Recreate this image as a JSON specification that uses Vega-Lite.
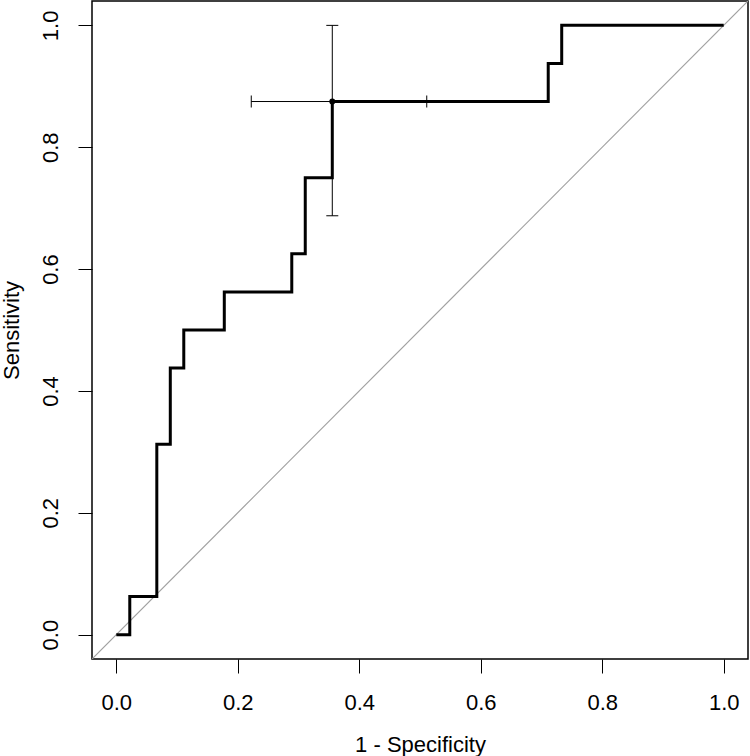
{
  "$schema": "https://vega.github.io/schema/vega-lite/v6.json",
  "width": 656,
  "height": 658,
  "autosize": {"type": "none"},
  "padding": {"left": 92, "top": 1, "right": 2, "bottom": 97},
  "background": "white",
  "config": {
    "font": "Liberation Sans",
    "view": {"stroke": "black", "strokeWidth": 1.5},
    "axis": {
      "grid": false,
      "domain": false,
      "tickColor": "black",
      "tickSize": 14,
      "tickWidth": 1,
      "labelFont": "Liberation Sans",
      "labelFontSize": 22,
      "labelColor": "black",
      "titleFont": "Liberation Sans",
      "titleFontSize": 22,
      "titleFontWeight": "normal",
      "titleColor": "black"
    }
  },
  "datasets": {
    "roc": [
      {"i": 0, "fpr": 0, "sens": 0},
      {"i": 1, "fpr": 0.0222, "sens": 0},
      {"i": 2, "fpr": 0.0222, "sens": 0.0625},
      {"i": 3, "fpr": 0.0667, "sens": 0.0625},
      {"i": 4, "fpr": 0.0667, "sens": 0.3125},
      {"i": 5, "fpr": 0.0889, "sens": 0.3125},
      {"i": 6, "fpr": 0.0889, "sens": 0.4375},
      {"i": 7, "fpr": 0.1111, "sens": 0.4375},
      {"i": 8, "fpr": 0.1111, "sens": 0.5},
      {"i": 9, "fpr": 0.1778, "sens": 0.5},
      {"i": 10, "fpr": 0.1778, "sens": 0.5625},
      {"i": 11, "fpr": 0.2889, "sens": 0.5625},
      {"i": 12, "fpr": 0.2889, "sens": 0.625},
      {"i": 13, "fpr": 0.3111, "sens": 0.625},
      {"i": 14, "fpr": 0.3111, "sens": 0.75},
      {"i": 15, "fpr": 0.3556, "sens": 0.75},
      {"i": 16, "fpr": 0.3556, "sens": 0.875},
      {"i": 17, "fpr": 0.7111, "sens": 0.875},
      {"i": 18, "fpr": 0.7111, "sens": 0.9375},
      {"i": 19, "fpr": 0.7333, "sens": 0.9375},
      {"i": 20, "fpr": 0.7333, "sens": 1},
      {"i": 21, "fpr": 1, "sens": 1}
    ],
    "ci": [
      {"fpr": 0.3556, "sens": 0.875, "fprLo": 0.2222, "fprHi": 0.5111, "sensLo": 0.6875, "sensHi": 1.0}
    ],
    "diag": [
      {"a": -0.04, "b": 1.04}
    ]
  },
  "layer": [
    {
      "data": {"name": "diag"},
      "mark": {"type": "rule", "color": "#a0a0a0", "strokeWidth": 1.2, "clip": true},
      "encoding": {
        "x": {"field": "a", "type": "quantitative", "scale": {"domain": [-0.04, 1.04], "nice": false, "zero": false},
              "axis": {"values": [0, 0.2, 0.4, 0.6, 0.8, 1.0], "format": ".1f", "title": "1 - Specificity", "labelPadding": 19, "titlePadding": 21}},
        "y": {"field": "a", "type": "quantitative", "scale": {"domain": [-0.04, 1.04], "nice": false, "zero": false},
              "axis": {"values": [0, 0.2, 0.4, 0.6, 0.8, 1.0], "format": ".1f", "title": "Sensitivity", "labelAngle": -90, "labelAlign": "center", "labelBaseline": "bottom", "labelPadding": 16, "titlePadding": 16}},
        "x2": {"field": "b"},
        "y2": {"field": "b"}
      }
    },
    {
      "data": {"name": "roc"},
      "mark": {"type": "line", "color": "black", "strokeWidth": 3, "strokeJoin": "miter", "strokeCap": "butt"},
      "encoding": {
        "x": {"field": "fpr", "type": "quantitative"},
        "y": {"field": "sens", "type": "quantitative"},
        "order": {"field": "i", "type": "quantitative"}
      }
    },
    {
      "data": {"name": "ci"},
      "mark": {"type": "rule", "color": "black", "strokeWidth": 1},
      "encoding": {
        "x": {"field": "fprLo", "type": "quantitative"},
        "x2": {"field": "fprHi"},
        "y": {"field": "sens", "type": "quantitative"}
      }
    },
    {
      "data": {"name": "ci"},
      "mark": {"type": "rule", "color": "black", "strokeWidth": 1},
      "encoding": {
        "x": {"field": "fpr", "type": "quantitative"},
        "y": {"field": "sensLo", "type": "quantitative"},
        "y2": {"field": "sensHi"}
      }
    },
    {
      "data": {"name": "ci"},
      "mark": {"type": "tick", "color": "black", "orient": "vertical", "size": 12, "thickness": 1, "opacity": 1},
      "encoding": {
        "x": {"field": "fprLo", "type": "quantitative"},
        "y": {"field": "sens", "type": "quantitative"}
      }
    },
    {
      "data": {"name": "ci"},
      "mark": {"type": "tick", "color": "black", "orient": "vertical", "size": 12, "thickness": 1, "opacity": 1},
      "encoding": {
        "x": {"field": "fprHi", "type": "quantitative"},
        "y": {"field": "sens", "type": "quantitative"}
      }
    },
    {
      "data": {"name": "ci"},
      "mark": {"type": "tick", "color": "black", "orient": "horizontal", "size": 12, "thickness": 1, "opacity": 1},
      "encoding": {
        "x": {"field": "fpr", "type": "quantitative"},
        "y": {"field": "sensLo", "type": "quantitative"}
      }
    },
    {
      "data": {"name": "ci"},
      "mark": {"type": "tick", "color": "black", "orient": "horizontal", "size": 12, "thickness": 1, "opacity": 1},
      "encoding": {
        "x": {"field": "fpr", "type": "quantitative"},
        "y": {"field": "sensHi", "type": "quantitative"}
      }
    },
    {
      "data": {"name": "ci"},
      "mark": {"type": "point", "filled": true, "color": "black", "size": 36, "opacity": 1},
      "encoding": {
        "x": {"field": "fpr", "type": "quantitative"},
        "y": {"field": "sens", "type": "quantitative"}
      }
    }
  ]
}
